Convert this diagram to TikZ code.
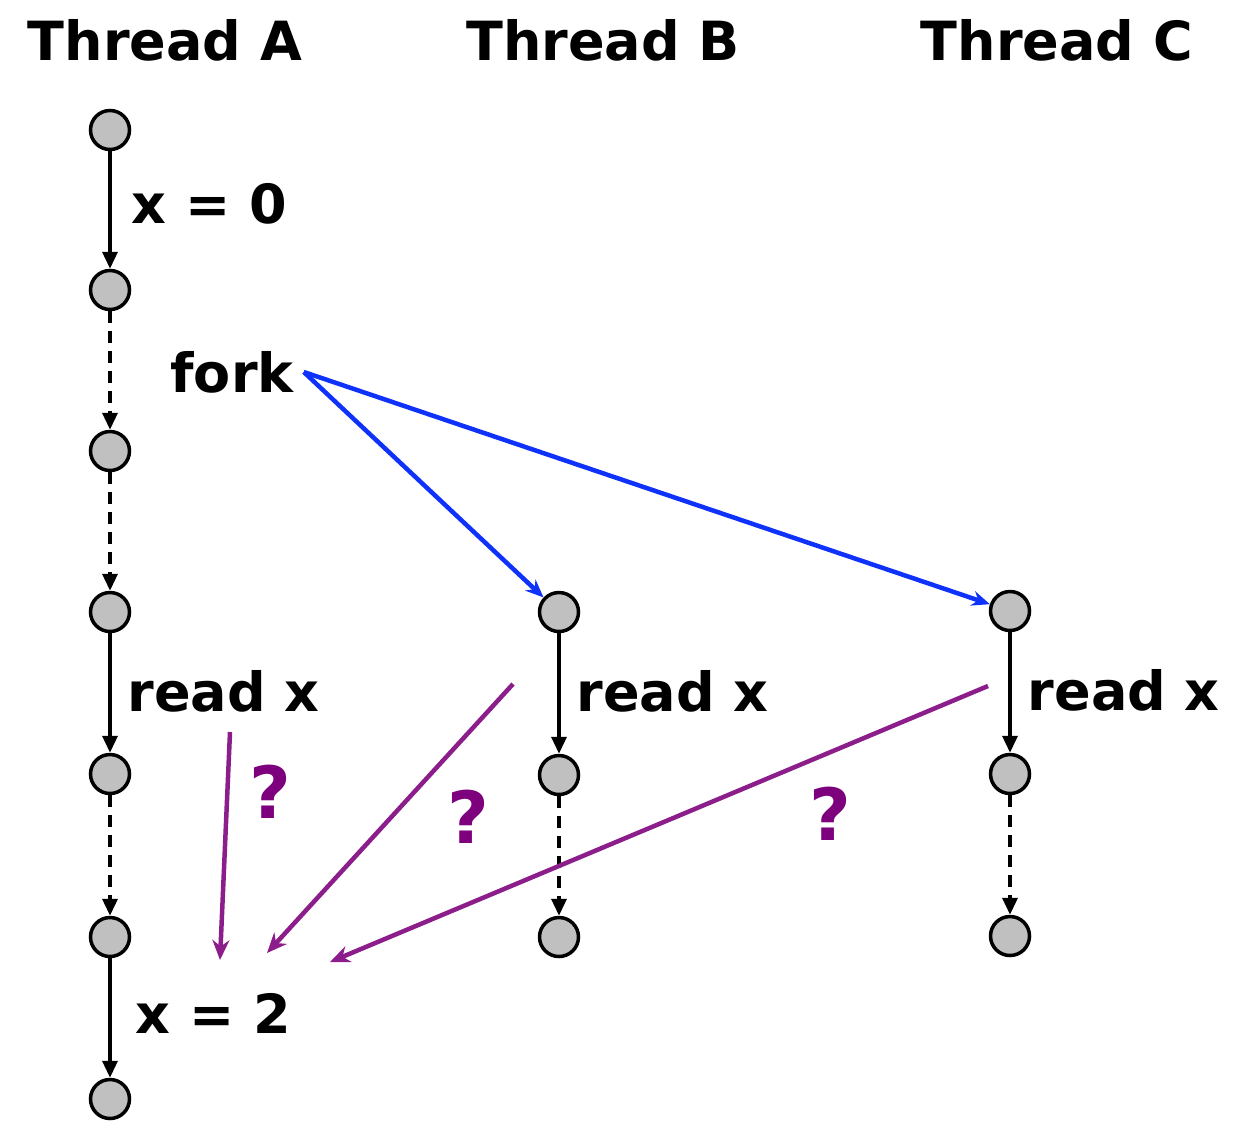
\documentclass[tikz,border=0pt]{standalone}
\usepackage{fontspec}
\setmainfont{DejaVu Sans}
\usetikzlibrary{arrows.meta, positioning}
\definecolor{forkblue}{RGB}{15,50,250}
\definecolor{racepurple}{RGB}{140,30,140}
\definecolor{askpurple}{RGB}{125,0,125}
\definecolor{stategray}{RGB}{192,192,192}

\begin{document}
\begin{tikzpicture}[x=1pt, y=-1pt,
  state/.style={circle, draw, line width=3.5pt, fill=stategray, minimum size=39pt, inner sep=0pt},
  seqedge/.style={line width=3.5pt, -{Triangle[length=17pt,width=15pt]}},
  waitedge/.style={seqedge, dash pattern=on 12pt off 8pt},
  forkedge/.style={forkblue, line width=4.5pt, -{Stealth[length=18pt,width=15pt]}},
  raceedge/.style={racepurple, line width=4.5pt, -{Stealth[length=20pt,width=17pt]}},
  lbl/.style={font=\fontsize{54}{60}\selectfont\bfseries, inner sep=0pt},
  ask/.style={lbl, font=\fontsize{72}{76}\selectfont\bfseries, text=askpurple}]
  \useasboundingbox (0,0) rectangle (1238,1120);

  % thread titles
  \node[lbl] (tA) at (165,40) {Thread A};
  \node[lbl] (tB) at (603,40) {Thread B};
  \node[lbl] (tC) at (1057,40) {Thread C};

  % thread A
  \node[state] (a1) at (110,130) {};
  \node[state] (a2) at (110,290) {};
  \node[state] (a3) at (110,451) {};
  \node[state] (a4) at (110,612) {};
  \node[state] (a5) at (110,774) {};
  \node[state] (a6) at (110,937) {};
  \node[state] (a7) at (110,1099) {};

  % thread B
  \node[state] (b1) at (559,612) {};
  \node[state] (b2) at (559,775) {};
  \node[state] (b3) at (559,937) {};

  % thread C
  \node[state] (c1) at (1010,611) {};
  \node[state] (c2) at (1010,774) {};
  \node[state] (c3) at (1010,936) {};

  % program order
  \draw[seqedge] (a1) -- node[lbl, right=20pt, yshift=6pt] (w0) {x = 0} (a2);
  \draw[waitedge] (a2) -- (a3);
  \draw[waitedge] (a3) -- (a4);
  \draw[seqedge] (a4) -- node[lbl, right=16pt, yshift=2pt] (rA) {read x} (a5);
  \draw[waitedge] (a5) -- (a6);
  \draw[seqedge] (a6) -- node[lbl, right=24pt, yshift=5pt] (w2) {x = 2} (a7);
  \draw[seqedge] (b1) -- node[lbl, right=16pt, yshift=2pt] (rB) {read x} (b2);
  \draw[waitedge] (b2) -- (b3);
  \draw[seqedge] (c1) -- node[lbl, right=16pt, yshift=2pt] (rC) {read x} (c2);
  \draw[waitedge] (c2) -- (c3);

  % fork
  \node[lbl, inner xsep=10pt] (fork) at (232,372) {fork};
  \draw[forkedge] (fork.east) -- (b1);
  \draw[forkedge] (fork.east) -- (c1);

  % racing reads
  \coordinate (fromA) at (230,732);
  \coordinate (fromB) at (513,684);
  \coordinate (fromC) at (988,686);
  \coordinate (toA) at (220,960);
  \coordinate (toB) at (267,953);
  \coordinate (toC) at (330,962);
  \draw[raceedge] (fromA) -- (toA);
  \draw[raceedge] (fromB) -- (toB);
  \draw[raceedge] (fromC) -- (toC);
  \node[ask] (qA) at (270,792) {?};
  \node[ask] (qB) at (468,817) {?};
  \node[ask] (qC) at (830,814) {?};
\end{tikzpicture}
\end{document}
